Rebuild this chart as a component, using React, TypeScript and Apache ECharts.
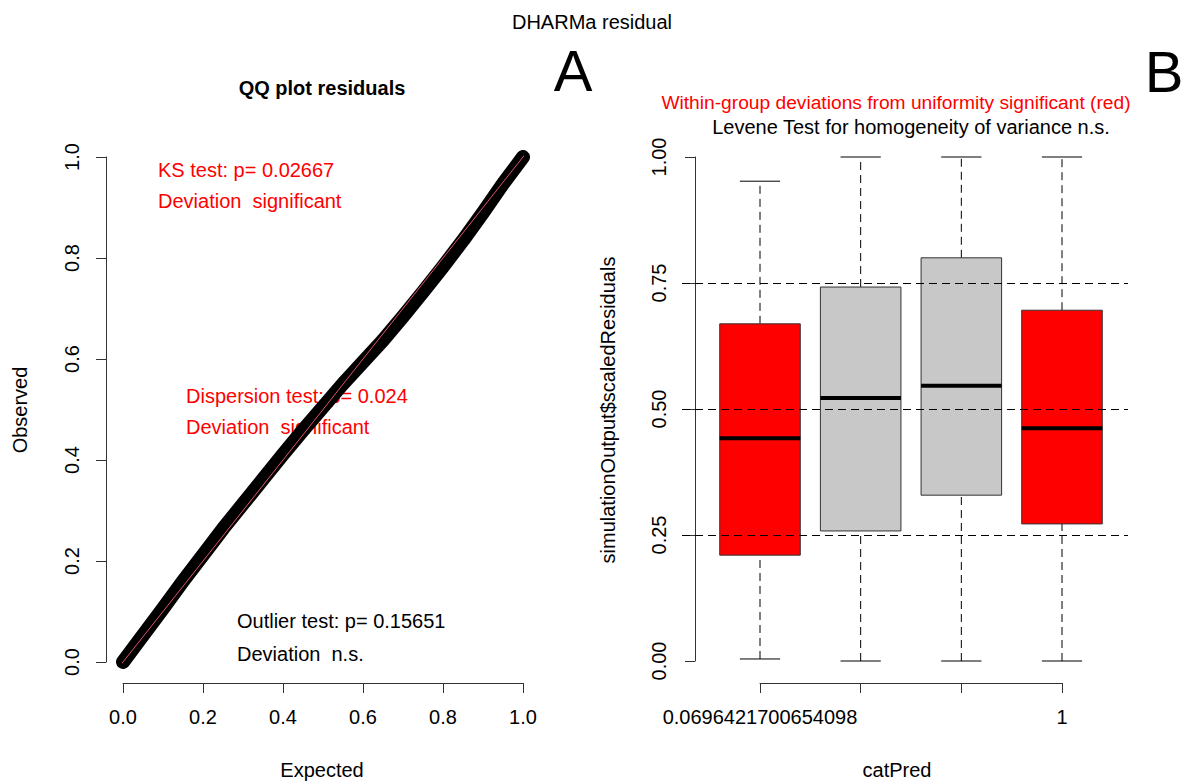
import React, { useEffect, useRef } from "react";
import * as echarts from "echarts";

// ---- QQ plot data ----
const qqExpected = [0, 0.05, 0.1, 0.15, 0.2, 0.25, 0.3, 0.35, 0.4, 0.45, 0.5, 0.55, 0.6, 0.65, 0.7, 0.75, 0.8, 0.85, 0.9, 0.95, 1.0];
const qqObserved = [0.0, 0.053, 0.106, 0.16, 0.212, 0.264, 0.313, 0.362, 0.411, 0.459, 0.505, 0.551, 0.594, 0.637, 0.684, 0.733, 0.783, 0.835, 0.89, 0.947, 1.0];
const identityEnds = [-0.04, 1.04];
const qqTicks = [0, 0.2, 0.4, 0.6, 0.8, 1.0];

// ---- Boxplot data ----
const boxCategories = ["0.0696421700654098", "g2", "g3", "1"];
const boxTickLabels = ["0.0696421700654098", "", "", "1"];
const boxMin = [0.004, 0.0, 0.0, 0.0];
const boxQ1 = [0.21, 0.258, 0.329, 0.272];
const boxMedian = [0.442, 0.522, 0.546, 0.462];
const boxQ3 = [0.669, 0.742, 0.8, 0.696];
const boxMax = [0.952, 1.0, 1.0, 1.0];
const boxSignificant = [true, false, false, true];
const refLevels = [0.25, 0.5, 0.75];

const FONT = "'Liberation Sans', Arial, sans-serif";
const RED = "#FF0000";
const AXIS = "#333333";

export default function App() {
  const ref = useRef<HTMLDivElement>(null);

  useEffect(() => {
    if (!ref.current) return;
    const chart = echarts.init(ref.current, undefined, { renderer: "svg" });

    const qqData = qqExpected.map((e, i) => [e, qqObserved[i]]);
    const boxData = boxCategories.map((_, i) => [i, boxMin[i], boxQ1[i], boxMedian[i], boxQ3[i], boxMax[i]]);

    const axisCommon = {
      axisLine: { show: true, onZero: false, lineStyle: { color: AXIS, width: 1 } },
      axisTick: { show: true, length: 10, lineStyle: { color: AXIS, width: 1 } },
      splitLine: { show: false },
    };

    const text = (x: number, y: number, t: string, opts: any = {}) => ({
      type: "text",
      x,
      y,
      style: {
        text: t,
        font: `${opts.weight || "normal"} ${opts.size || 20}px ${FONT}`,
        fill: opts.color || "#000",
        textAlign: opts.align || "left",
        textVerticalAlign: "middle",
      },
      rotation: opts.rotation || 0,
    });

    const option: any = {
      animation: false,
      backgroundColor: "#fff",
      textStyle: { fontFamily: FONT },
      grid: [
        { left: 123, top: 157, width: 400, height: 505 },
        { left: 760, top: 157, width: 302, height: 504 },
        { left: 682, top: 157, width: 446, height: 504 },
      ],
      xAxis: [
        {
          gridIndex: 0,
          type: "value",
          min: 0,
          max: 1,
          interval: 0.2,
          offset: 21,
          ...axisCommon,
          axisLabel: {
            margin: 24,
            fontSize: 20,
            color: "#000",
            fontFamily: FONT,
            formatter: (v: number) => (qqTicks.some((t) => Math.abs(t - v) < 1e-9) ? v.toFixed(1) : ""),
          },
        },
        {
          gridIndex: 1,
          type: "category",
          data: boxCategories,
          boundaryGap: false,
          offset: 22,
          ...axisCommon,
          axisTick: { show: true, length: 10, interval: 0, lineStyle: { color: AXIS, width: 1 } },
          axisLabel: {
            interval: 0,
            margin: 24,
            fontSize: 20,
            color: "#000",
            fontFamily: FONT,
            formatter: (_v: string, i: number) => boxTickLabels[i],
          },
        },
        { gridIndex: 2, type: "value", min: 0, max: 1, show: false },
      ],
      yAxis: [
        {
          gridIndex: 0,
          type: "value",
          min: 0,
          max: 1,
          interval: 0.2,
          offset: 17,
          ...axisCommon,
          axisLabel: {
            rotate: 90,
            margin: 24,
            fontSize: 20,
            color: "#000",
            fontFamily: FONT,
            formatter: (v: number) => v.toFixed(1),
          },
        },
        {
          gridIndex: 1,
          type: "value",
          min: 0,
          max: 1,
          interval: 0.25,
          offset: 65,
          ...axisCommon,
          axisLabel: {
            rotate: 90,
            margin: 26,
            fontSize: 20,
            color: "#000",
            fontFamily: FONT,
            formatter: (v: number) => v.toFixed(2),
          },
        },
        { gridIndex: 2, type: "value", min: 0, max: 1, show: false },
      ],
      series: [
        {
          type: "line",
          xAxisIndex: 0,
          yAxisIndex: 0,
          data: qqData,
          showSymbol: false,
          clip: false,
          lineStyle: { color: "#000", width: 14, cap: "round", join: "round" },
          z: 2,
        },
        {
          type: "line",
          xAxisIndex: 0,
          yAxisIndex: 0,
          data: identityEnds.map((v) => [v, v]),
          showSymbol: false,
          clip: false,
          lineStyle: { color: "#DF536B", width: 1 },
          z: 3,
        },
        {
          type: "line",
          xAxisIndex: 2,
          yAxisIndex: 2,
          data: [],
          markLine: {
            silent: true,
            symbol: "none",
            label: { show: false },
            lineStyle: { color: "#000", width: 1, type: [8, 5] },
            data: refLevels.map((h) => ({ yAxis: h })),
          },
          z: 1,
        },
        {
          type: "custom",
          xAxisIndex: 1,
          yAxisIndex: 1,
          data: boxData,
          clip: false,
          z: 2,
          renderItem: (params: any, api: any) => {
            const idx = api.value(0);
            const pLo = api.coord([idx, api.value(1)]);
            const pQ1 = api.coord([idx, api.value(2)]);
            const pMed = api.coord([idx, api.value(3)]);
            const pQ3 = api.coord([idx, api.value(4)]);
            const pHi = api.coord([idx, api.value(5)]);
            const bw = api.size([1, 0])[0] * 0.8;
            const cw = bw / 2;
            const x = pLo[0];
            const fill = boxSignificant[params.dataIndex] ? RED : "#C8C8C8";
            const dash = { stroke: "#000", lineWidth: 1, lineDash: [8, 5] };
            const solid = { stroke: "#000", lineWidth: 1 };
            return {
              type: "group",
              children: [
                { type: "line", shape: { x1: x, y1: pLo[1], x2: x, y2: pQ1[1] }, style: dash },
                { type: "line", shape: { x1: x, y1: pQ3[1], x2: x, y2: pHi[1] }, style: dash },
                { type: "line", shape: { x1: x - cw / 2, y1: pLo[1], x2: x + cw / 2, y2: pLo[1] }, style: solid },
                { type: "line", shape: { x1: x - cw / 2, y1: pHi[1], x2: x + cw / 2, y2: pHi[1] }, style: solid },
                {
                  type: "rect",
                  shape: { x: x - bw / 2, y: pQ3[1], width: bw, height: pQ1[1] - pQ3[1] },
                  style: { fill, stroke: "#333", lineWidth: 1 },
                },
                {
                  type: "line",
                  shape: { x1: x - bw / 2, y1: pMed[1], x2: x + bw / 2, y2: pMed[1] },
                  style: { stroke: "#000", lineWidth: 4 },
                },
              ],
            };
          },
        },
      ],
      graphic: [
        text(592, 22, "DHARMa residual", { align: "center", size: 20 }),
        text(573, 70, "A", { align: "center", size: 58 }),
        text(1164, 71, "B", { align: "center", size: 58 }),
        text(322, 88, "QQ plot residuals", { align: "center", size: 20, weight: "bold" }),
        text(896, 102, "Within-group deviations from uniformity significant (red)", { align: "center", size: 19.2, color: RED }),
        text(911, 127, "Levene Test for homogeneity of variance n.s.", { align: "center", size: 20 }),
        text(158, 170, "KS test: p= 0.02667", { color: RED }),
        text(158, 201, "Deviation  significant", { color: RED }),
        text(186, 396, "Dispersion test: p= 0.024", { color: RED }),
        text(186, 427, "Deviation  significant", { color: RED }),
        text(237, 621, "Outlier test: p= 0.15651"),
        text(237, 654, "Deviation  n.s."),
        text(322, 770, "Expected", { align: "center" }),
        text(897, 770, "catPred", { align: "center" }),
        text(20, 410, "Observed", { align: "center", rotation: Math.PI / 2 }),
        text(608, 410, "simulationOutput$scaledResiduals", { align: "center", rotation: Math.PI / 2 }),
      ],
    };

    chart.setOption(option);
    return () => chart.dispose();
  }, []);

  return <div ref={ref} style={{ position: "absolute", left: 0, top: 0, width: 1185, height: 781, background: "#fff" }} />;
}
